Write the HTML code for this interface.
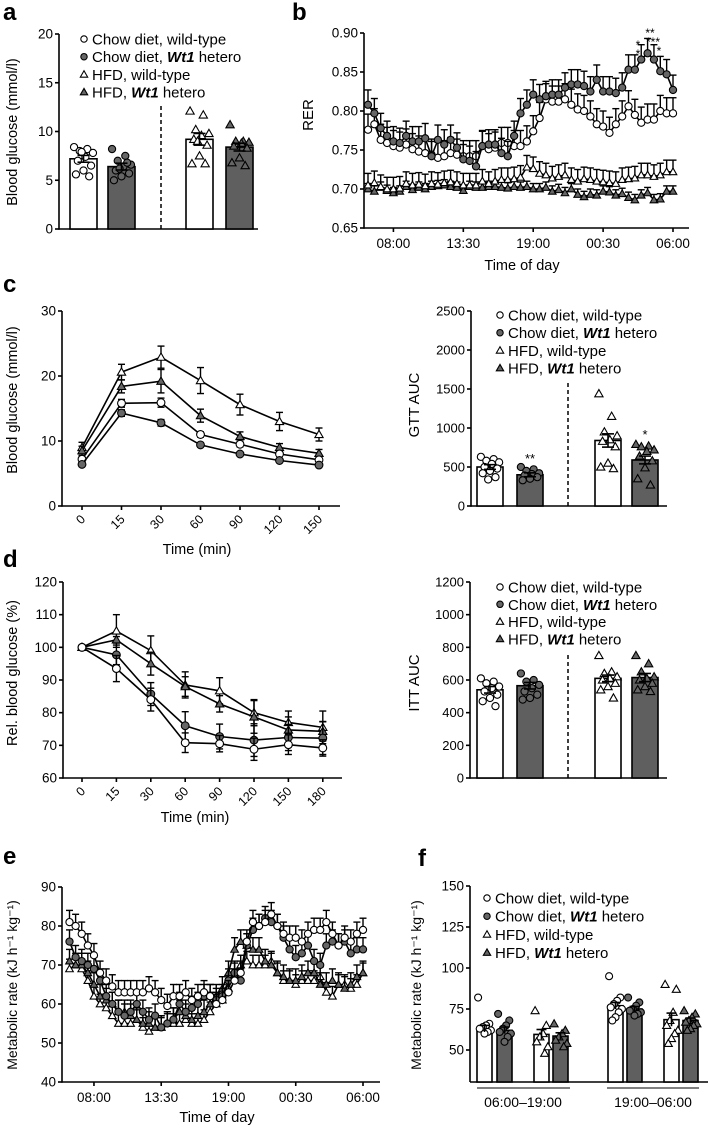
<!DOCTYPE html>
<html><head><meta charset="utf-8">
<style>
html,body{margin:0;padding:0;background:#fff;}
svg{display:block;font-family:"Liberation Sans",Arial,sans-serif;}
text{fill:#000;}
</style></head>
<body>
<svg id="fig" width="708" height="1127" viewBox="0 0 708 1127" xmlns="http://www.w3.org/2000/svg"></svg>
<script>
// ---------- DATA ----------
const groupLabels = ["Chow diet, wild-type","Chow diet, Wt1 hetero","HFD, wild-type","HFD, Wt1 hetero"];
const markerTypes = ["oc","fc","ot","ft"];
// panel a
const aMeans = [7.2, 6.4, 9.2, 8.4];
const aSem = [0.35, 0.35, 0.6, 0.4];
const aDots0 = [8.4,8.2,8.0,7.8,7.4,7.0,6.5,6.0,5.6,5.4,7.9];
const aDots1 = [8.2,7.5,7.0,6.6,6.4,6.0,5.7,5.4,5.0,6.8,6.2];
const aDots2 = [12.1,11.7,10.2,9.8,9.6,9.2,8.6,7.5,6.7,6.7,9.0];
const aDots3 = [10.7,9.0,9.0,8.9,8.8,8.5,8.3,7.3,6.8,6.5];
const aTicks = [0,5,10,15,20];
// panel b RER
const bTimeTicks = ["08:00","13:30","19:00","00:30","06:00"];
const bTickHours = [2,7.5,13,18.5,24];
const bChowWT = [0.776,0.783,0.763,0.759,0.755,0.753,0.757,0.751,0.748,0.746,0.744,0.740,0.742,0.746,0.744,0.742,0.742,0.742,0.755,0.751,0.753,0.759,0.759,0.755,0.755,0.761,0.774,0.791,0.815,0.812,0.812,0.815,0.808,0.802,0.800,0.793,0.783,0.780,0.772,0.783,0.793,0.806,0.795,0.785,0.789,0.789,0.800,0.797,0.797];
const bChowHet = [0.808,0.797,0.778,0.768,0.761,0.759,0.768,0.761,0.761,0.765,0.742,0.763,0.757,0.763,0.753,0.738,0.736,0.729,0.755,0.757,0.757,0.746,0.742,0.768,0.797,0.808,0.821,0.815,0.819,0.821,0.821,0.830,0.834,0.834,0.832,0.825,0.840,0.825,0.825,0.823,0.830,0.853,0.853,0.866,0.874,0.866,0.851,0.847,0.827];
const bHfdWT = [0.705,0.708,0.703,0.700,0.700,0.701,0.707,0.705,0.706,0.704,0.707,0.706,0.708,0.709,0.707,0.705,0.705,0.705,0.710,0.707,0.710,0.712,0.712,0.713,0.715,0.728,0.726,0.720,0.718,0.714,0.716,0.718,0.712,0.710,0.713,0.712,0.710,0.709,0.708,0.707,0.712,0.713,0.714,0.718,0.718,0.716,0.718,0.722,0.722];
const bHfdHet = [0.700,0.697,0.702,0.698,0.695,0.697,0.703,0.699,0.702,0.700,0.703,0.704,0.705,0.703,0.702,0.698,0.703,0.702,0.702,0.703,0.703,0.702,0.701,0.703,0.702,0.703,0.700,0.700,0.702,0.697,0.699,0.695,0.700,0.693,0.690,0.693,0.692,0.697,0.696,0.692,0.694,0.689,0.686,0.692,0.695,0.686,0.687,0.697,0.697];
const bErr = [0.02, 0.019, 0.015, 0.007];
const bYTicks = [0.65,0.70,0.75,0.80,0.85,0.90];
// panel c GTT
const cTimes = ["0","15","30","60","90","120","150"];
const cChowWT = [7.2,15.8,15.9,11.0,9.5,8.0,7.1];
const cChowHet = [6.4,14.3,12.8,9.4,8.0,7.0,6.3];
const cHfdWT = [9.0,20.6,22.9,19.3,15.6,13.0,11.0];
const cHfdHet = [8.5,18.4,19.2,13.9,10.7,9.0,8.1];
const cErrChowWT = [0.5,0.6,0.7,0.4,0.4,0.3,0.3];
const cErrChowHet = [0.3,0.5,0.5,0.3,0.2,0.2,0.2];
const cErrHfdWT = [0.8,1.2,1.7,2.0,1.6,1.4,1.0];
const cErrHfdHet = [0.7,1.0,1.8,1.0,0.7,0.6,0.6];
const cYTicks = [0,10,20,30];
// panel c right GTT AUC
const gMeans = [500,400,840,590];
const gSem = [30,25,85,50];
const gDots0 = [630,600,580,560,540,500,480,450,420,370,340];
const gDots1 = [500,470,450,420,410,390,370,350,330];
const gDots2 = [1440,1150,950,900,850,830,760,550,500,480];
const gDots3 = [790,770,760,720,700,640,580,490,350,270];
const gTicks = [0,500,1000,1500,2000,2500];
// panel d ITT
const dTimes = ["0","15","30","60","90","120","150","180"];
const dHfdWT = [100,105,99,88.5,86.7,80,77,75.5];
const dHfdHet = [100,102.3,95,88,82.7,78.7,74.7,74.3];
const dChowHet = [100,97.7,85.7,76,72.7,71.6,72.4,72.2];
const dChowWT = [100,93.5,84,70.8,70.5,68.8,70.2,69.2];
const dErrHfdWT = [0,5,4.5,4,4,4,3.5,5];
const dErrHfdHet = [0,1,3.5,3,2.5,5,4,3];
const dErrChowHet = [0,3,3.5,4.3,3.8,5,4,5];
const dErrChowWT = [0,4,3.5,3,2.5,3.4,3,2.5];
const dYTicks = [60,70,80,90,100,110,120];
// panel d right ITT AUC
const iMeans = [540,565,610,615];
const iSem = [20,20,20,25];
const iDots0 = [610,590,580,560,550,530,510,490,470,440];
const iDots1 = [640,600,590,570,550,530,510,490,480];
const iDots2 = [750,650,640,620,610,600,580,560,540,490];
const iDots3 = [750,700,650,620,610,600,580,560,540,530];
const iTicks = [0,200,400,600,800,1000,1200];
// panel e metabolic rate
const eChowWT = [81,80,78,75,72.5,68,66,64.5,63,63,63,63,63,64,63,61,59.5,62,62,63,61,62,63,62,60,61,63,66,68,76,81,80,81,83,80,78,77,77,76,78,79,79,81,78,75,77,76,78,79];
const eChowHet = [76,72,71,70,69,66,62,60,58,57,58,60,58,56,57,54,55,56,60,58,59,60,62,62,61,62,66,68,66,75,79,80,82,81,80,77,74,72,73,75,71,70,75,76,75,76,73,74,74];
const eHfdHet = [71,70,70,68,65,62,61,60,58,58,57,56,55,55,54,54,55,56,58,57,56,57,58,60,62,64,68,74,76,75,74,74,71,70,68,67,66,66,67,68,68,65,65,66,65,64,65,67,68];
const eHfdWT = [69,70,69,66,62,60,59,57,55,55,55,56,54,53,54,54,55,55,55,56,55,55,56,58,60,61,64,68,70,71,70,70,70,71,68,66,66,65,66,66,66,67,63,62,65,65,64,65,68];
const eErr = [3, 3, 3, 2.5];
const eYTicks = [40,50,60,70,80,90];
// panel f
const fPeriods = ["06:00\u201319:00","19:00\u201306:00"];
const fMeans = [63,62,59.5,58.5,77,75,68.5,68];
const fSem = [2,2,3,2,2,1.5,4,1.5];
const fDots = [[82,66,65,64,63,62,61,60],[72,68,65,63,61,60,58,55],[74,65,60,58,55,52,48],[66,62,60,58,56,54,52],
  [95,82,80,78,76,75,73,70,68],[82,79,77,75,74,73,72,71],[90,87,73,68,65,62,60,57,54],[74,72,70,68,67,66,65,63,62]];
const fTicks = [50,75,100,125,150];

// ---------- HELPERS ----------
const NS = "http://www.w3.org/2000/svg";
const svg = document.getElementById("fig");
function mk(tag, attrs, parent){ const e=document.createElementNS(NS,tag); for(const k in attrs) e.setAttribute(k,attrs[k]); (parent||svg).appendChild(e); return e; }
function lin(d0,d1,r0,r1){ return v => r0 + (v-d0)*(r1-r0)/(d1-d0); }
function group(name){ const g=mk('g',{});   return g; }
function txt(parent, x, y, s, size, anchor, name, extra){
  const t = mk('text', Object.assign({x:x,y:y,'font-size':size,'text-anchor':anchor||'start'}, extra||{}), parent);
  t.textContent = s;
  
  
  return t;
}
function marker(type, x, y, r, parent){
  let e;
  const fill = type[0]==='o' ? '#fff' : '#666';
  if(type[1]==='c'){
    e = mk('circle',{cx:x,cy:y,r:r,fill:fill,stroke:'#000','stroke-width':1.1}, parent);
  } else {
    const rr=r*1.15;
    e = mk('polygon',{points:`${x},${y-rr} ${x-rr},${y+rr*0.75} ${x+rr},${y+rr*0.75}`,fill:fill,stroke:'#000','stroke-width':1.1}, parent);
  }
  
  
  return e;
}
function line(parent,x1,y1,x2,y2,w,name,dash){
  const l = mk('line',{x1:x1,y1:y1,x2:x2,y2:y2,stroke:'#000','stroke-width':w||1.6}, parent);
  if(dash) l.setAttribute('stroke-dasharray',dash);
  
  
  return l;
}
function yAxis(parent, x, ticks, ys, fmt, fs){
  line(parent, x, ys(ticks[0])+0.75, x, ys(ticks[ticks.length-1]), 1.6, 'y-axis-line');
  ticks.forEach(t=>{
    line(parent, x-4, ys(t), x, ys(t), 1.6, 'y-tick');
    txt(parent, x-6, ys(t)+4.5, fmt?fmt(t):String(t), fs||13.5, 'end', 'y-tick-label');
  });
}
function yTitle(parent, x, y, s, name, fs){
  return txt(parent, x, y, s, fs||14.5, 'middle', name, {transform:`rotate(-90 ${x} ${y})`});
}
function legend(parent, x, y0, dy){
  groupLabels.forEach((lab,i)=>{
    const g = mk('g',{},parent);
    
    
    marker(markerTypes[i], x, y0+i*dy, 3.2, g);
    const t = mk('text',{x:x+8,y:y0+i*dy+5.5,'font-size':15},g);
    
    
    if(lab.indexOf('Wt1')>=0){
      const parts = lab.split('Wt1');
      const a=mk('tspan',{},t); a.textContent=parts[0];
      const b=mk('tspan',{'font-style':'italic','font-weight':'bold'},t); b.textContent='Wt1';
      const c=mk('tspan',{},t); c.textContent=parts[1];
    } else t.textContent = lab;
  });
}
function barChart(parent, xs, w, means, sems, dots, types, ys, r){
  means.forEach((m,i)=>{
    const b = mk('rect',{x:xs[i],y:ys(m),width:w,height:ys(0)-ys(m),fill:(types[i][0]==='f')?'#5f5f5f':'#fff',stroke:'#000','stroke-width':1.6},parent);
    
    
  });
  means.forEach((m,i)=>{
    const cx = xs[i]+w/2;
    dots[i].forEach((v,j)=>{
      const off = ((j*7)%11 - 5) * (w*0.07);
      marker(types[i], cx+off, ys(v), r, parent);
    });
    line(parent, cx, ys(m-sems[i]), cx, ys(m+sems[i]), 1.6, 'error-bar');
    line(parent, cx-6, ys(m+sems[i]), cx+6, ys(m+sems[i]), 1.6, 'error-cap');
    line(parent, cx-6, ys(m-sems[i]), cx+6, ys(m-sems[i]), 1.6, 'error-cap');
  });
}
function series(parent, vals, errs, type, xs, ys, r, both, name){
  const g = mk('g',{},parent);
  
  
  vals.forEach((v,i)=>{
    const e = Array.isArray(errs)?errs[i]:errs;
    if(e>0){
      line(g, xs(i), ys(both? v-e : v), xs(i), ys(v+e), 1.4, 'error-bar');
      line(g, xs(i)-3.5, ys(v+e), xs(i)+3.5, ys(v+e), 1.4, 'error-cap');
      if(both) line(g, xs(i)-3.5, ys(v-e), xs(i)+3.5, ys(v-e), 1.4, 'error-cap');
    }
  });
  const p = mk('polyline',{points:vals.map((v,i)=>xs(i)+','+ys(v)).join(' '),fill:'none',stroke:'#000','stroke-width':1.6},g);
  
  
  vals.forEach((v,i)=>marker(type, xs(i), ys(v), r, g));
}
function panelLabel(x,y,s){ txt(svg,x,y,s,24,'start','panel-label-'+s,{'font-weight':'bold'}); }

// ---------- PANEL A ----------
(function(){
  const g = group('panel-a');
  panelLabel(3,20,'a');
  const ys = lin(0,20,229,34);
  yAxis(g, 59, aTicks, ys);
  line(g, 59, 229, 258, 229, 1.6, 'x-axis-line');
  yTitle(g, 17, 132, 'Blood glucose (mmol/l)', 'y-axis-title');
  line(g, 161, 229, 161, 105, 1.5, 'divider-dashed', '4,3');
  barChart(g, [70,108,186,226], 27, aMeans, aSem, [aDots0,aDots1,aDots2,aDots3], markerTypes, ys, 3.6);
  legend(g, 84, 39, 17.7);
})();

// ---------- PANEL B ----------
(function(){
  const g = group('panel-b');
  panelLabel(292,20,'b');
  const ys = lin(0.65,0.90,228,33);
  const xh = lin(0,24,368,673);
  yAxis(g, 364, bYTicks, ys, v=>v.toFixed(2));
  line(g, 364, 228, 689, 228, 1.6, 'x-axis-line');
  bTickHours.forEach((h,i)=>{
    line(g, xh(h), 228, xh(h), 232, 1.6, 'x-tick');
    txt(g, xh(h), 248, bTimeTicks[i], 13.5, 'middle', 'x-tick-label');
  });
  txt(g, 522, 270, 'Time of day', 14.5, 'middle', 'x-axis-title');
  yTitle(g, 313, 115, 'RER', 'y-axis-title', 15);
  const xi = i => xh(i*0.5);
  series(g, bHfdHet, bErr[3], 'ft', xi, ys, 3.3, false, 'series-hfd-hetero');
  series(g, bHfdWT, bErr[2], 'ot', xi, ys, 3.3, false, 'series-hfd-wildtype');
  series(g, bChowWT, bErr[0], 'oc', xi, ys, 3.6, false, 'series-chow-wildtype');
  series(g, bChowHet, bErr[1], 'fc', xi, ys, 3.6, false, 'series-chow-hetero');
  txt(g, 650, 37, '**', 12, 'middle', 'significance-stars');
  txt(g, 653, 46, '***', 12, 'middle', 'significance-stars');
  txt(g, 638, 49, '*', 12, 'middle', 'significance-stars');
  txt(g, 638, 58, '*', 12, 'middle', 'significance-stars');
  txt(g, 659, 55, '*', 12, 'middle', 'significance-stars');
})();

// ---------- PANEL C ----------
(function(){
  const g = group('panel-c');
  panelLabel(3,292,'c');
  const ys = lin(0,30,506,311);
  const xs = i => 82 + i*39.5;
  yAxis(g, 62, cYTicks, ys);
  line(g, 62, 506, 340, 506, 1.6, 'x-axis-line');
  cTimes.forEach((t,i)=>{
    line(g, xs(i), 506, xs(i), 510, 1.6, 'x-tick');
    txt(g, xs(i)+4, 520, t, 12.5, 'end', 'x-tick-label', {transform:`rotate(-45 ${xs(i)+4} 520)`});
  });
  txt(g, 197, 554, 'Time (min)', 14.5, 'middle', 'x-axis-title');
  yTitle(g, 17, 400, 'Blood glucose (mmol/l)', 'y-axis-title');
  series(g, cHfdWT, cErrHfdWT, 'ot', xs, ys, 3.6, true, 'series-hfd-wildtype');
  series(g, cHfdHet, cErrHfdHet, 'ft', xs, ys, 3.6, true, 'series-hfd-hetero');
  series(g, cChowWT, cErrChowWT, 'oc', xs, ys, 3.9, true, 'series-chow-wildtype');
  series(g, cChowHet, cErrChowHet, 'fc', xs, ys, 3.9, true, 'series-chow-hetero');
})();

// ---------- PANEL C RIGHT ----------
(function(){
  const g = group('panel-c-auc');
  const ys = lin(0,2500,506,311);
  yAxis(g, 471, gTicks, ys, null, 13);
  line(g, 471, 506, 667, 506, 1.6, 'x-axis-line');
  yTitle(g, 419, 405, 'GTT AUC', 'y-axis-title', 15);
  line(g, 568, 506, 568, 380, 1.5, 'divider-dashed', '4,3');
  barChart(g, [477,517,595,632], 26, gMeans, gSem, [gDots0,gDots1,gDots2,gDots3], markerTypes, ys, 3.6);
  txt(g, 530, 463, '**', 13, 'middle', 'significance-stars');
  txt(g, 645, 439, '*', 13, 'middle', 'significance-stars');
  legend(g, 500, 315, 17.7);
})();

// ---------- PANEL D ----------
(function(){
  const g = group('panel-d');
  panelLabel(3,567,'d');
  const ys = lin(60,120,778,582);
  const xs = i => 82 + i*34.4;
  yAxis(g, 63, dYTicks, ys);
  line(g, 63, 778, 342, 778, 1.6, 'x-axis-line');
  dTimes.forEach((t,i)=>{
    line(g, xs(i), 778, xs(i), 782, 1.6, 'x-tick');
    txt(g, xs(i)+4, 792, t, 12.5, 'end', 'x-tick-label', {transform:`rotate(-45 ${xs(i)+4} 792)`});
  });
  txt(g, 195, 822, 'Time (min)', 14.5, 'middle', 'x-axis-title');
  yTitle(g, 17, 673, 'Rel. blood glucose (%)', 'y-axis-title');
  series(g, dHfdWT, dErrHfdWT, 'ot', xs, ys, 3.6, true, 'series-hfd-wildtype');
  series(g, dHfdHet, dErrHfdHet, 'ft', xs, ys, 3.6, true, 'series-hfd-hetero');
  series(g, dChowHet, dErrChowHet, 'fc', xs, ys, 3.9, true, 'series-chow-hetero');
  series(g, dChowWT, dErrChowWT, 'oc', xs, ys, 3.9, true, 'series-chow-wildtype');
})();

// ---------- PANEL D RIGHT ----------
(function(){
  const g = group('panel-d-auc');
  const ys = lin(0,1200,778,582);
  yAxis(g, 470, iTicks, ys, null, 13);
  line(g, 470, 778, 667, 778, 1.6, 'x-axis-line');
  yTitle(g, 419, 683, 'ITT AUC', 'y-axis-title', 15);
  line(g, 568, 778, 568, 652, 1.5, 'divider-dashed', '4,3');
  barChart(g, [477,517,595,632], 26, iMeans, iSem, [iDots0,iDots1,iDots2,iDots3], markerTypes, ys, 3.6);
  legend(g, 500, 587, 17.3);
})();

// ---------- PANEL E ----------
(function(){
  const g = group('panel-e');
  panelLabel(3,864,'e');
  const ys = lin(40,90,1082,887);
  const xh = lin(0,24,69.5,363);
  yAxis(g, 62, eYTicks, ys);
  line(g, 62, 1082, 380, 1082, 1.6, 'x-axis-line');
  bTickHours.forEach((h,i)=>{
    line(g, xh(h), 1082, xh(h), 1086, 1.6, 'x-tick');
    txt(g, xh(h), 1102, bTimeTicks[i], 13.5, 'middle', 'x-tick-label');
  });
  txt(g, 217, 1122, 'Time of day', 14.5, 'middle', 'x-axis-title');
  yTitle(g, 17, 985, 'Metabolic rate (kJ h\u207B\u00B9 kg\u207B\u00B9)', 'y-axis-title', 14);
  const xi = i => xh(i*0.5);
  series(g, eHfdWT, eErr[3], 'ot', xi, ys, 3.3, false, 'series-hfd-wildtype');
  series(g, eHfdHet, eErr[2], 'ft', xi, ys, 3.3, false, 'series-hfd-hetero');
  series(g, eChowHet, eErr[1], 'fc', xi, ys, 3.6, false, 'series-chow-hetero');
  series(g, eChowWT, eErr[0], 'oc', xi, ys, 3.6, false, 'series-chow-wildtype');
})();

// ---------- PANEL F ----------
(function(){
  const g = group('panel-f');
  panelLabel(418,866,'f');
  const ys = lin(50,150,1050,886);
  line(g, 470, 1082, 470, 886, 1.6, 'y-axis-line');
  fTicks.forEach(t=>{
    line(g, 466, ys(t), 470, ys(t), 1.6, 'y-tick');
    txt(g, 464, ys(t)+4.5, String(t), 13.5, 'end', 'y-tick-label');
  });
  line(g, 470, 1082, 708, 1082, 1.6, 'x-axis-line');
  yTitle(g, 421, 985, 'Metabolic rate (kJ h\u207B\u00B9 kg\u207B\u00B9)', 'y-axis-title', 14);
  const yb = v => Math.min(ys(v), 1082);
  const bx = [477,497,534,553,608,627,664,683];
  const types = ["oc","fc","ot","ft","oc","fc","ot","ft"];
  fMeans.forEach((m,i)=>{
    const r = mk('rect',{x:bx[i],y:ys(m),width:15,height:1082-ys(m),fill:(types[i][0]==='f')?'#5f5f5f':'#fff',stroke:'#000','stroke-width':1.6},g);
    
    
  });
  fMeans.forEach((m,i)=>{
    const cx = bx[i]+7.5;
    fDots[i].forEach((v,j)=>{ marker(types[i], cx+((j*7)%9-4)*1.6, yb(v), 3.5, g); });
    line(g, cx, ys(m-fSem[i]), cx, ys(m+fSem[i]), 1.6, 'error-bar');
    line(g, cx-5, ys(m+fSem[i]), cx+5, ys(m+fSem[i]), 1.6, 'error-cap');
  });
  line(g, 477, 1088, 570, 1088, 1, 'period-bracket');
  line(g, 607, 1088, 699, 1088, 1, 'period-bracket');
  txt(g, 523, 1107, fPeriods[0], 14, 'middle', 'x-category-label');
  txt(g, 653, 1107, fPeriods[1], 14, 'middle', 'x-category-label');
  legend(g, 487, 898, 18.2);
})();
</script>
</body></html>
